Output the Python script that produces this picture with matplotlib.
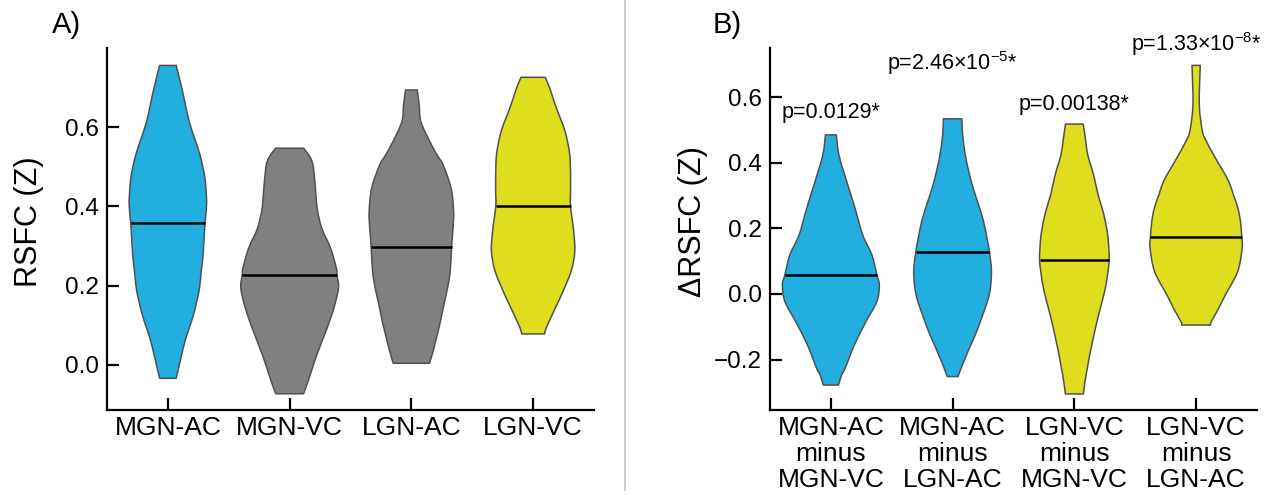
import numpy as np
import matplotlib
matplotlib.use("Agg")
import matplotlib.pyplot as plt
from matplotlib.lines import Line2D
from matplotlib.path import Path
from matplotlib.patches import PathPatch

plt.rcParams['font.family'] = ['Liberation Sans', 'DejaVu Sans']
plt.rcParams['mathtext.fontset'] = 'custom'
plt.rcParams['mathtext.rm'] = 'Liberation Sans'
plt.rcParams['mathtext.it'] = 'Liberation Sans:italic'
plt.rcParams['mathtext.bf'] = 'Liberation Sans:bold'

# ---------------- data ----------------
categories_a = ['MGN-AC', 'MGN-VC', 'LGN-AC', 'LGN-VC']
categories_b = ['MGN-AC\nminus\nMGN-VC', 'MGN-AC\nminus\nLGN-AC',
                'LGN-VC\nminus\nMGN-VC', 'LGN-VC\nminus\nLGN-AC']

# violin density profiles: value levels (Z) and half-width (category units)
mgn_ac_y = [-0.034, 0.017, 0.059, 0.093, 0.126, 0.160, 0.194, 0.236, 0.278, 0.358,
            0.404, 0.446, 0.480, 0.530, 0.572, 0.614, 0.657, 0.699, 0.756]
mgn_ac_w = [0.068, 0.107, 0.140, 0.175, 0.210, 0.237, 0.260, 0.274, 0.289, 0.305,
            0.318, 0.312, 0.300, 0.264, 0.219, 0.175, 0.144, 0.114, 0.068]

mgn_vc_y = [-0.073, -0.042, 0.025, 0.093, 0.143, 0.194, 0.227, 0.244, 0.295, 0.345,
            0.396, 0.463, 0.514, 0.547]
mgn_vc_w = [0.114, 0.151, 0.223, 0.308, 0.363, 0.401, 0.389, 0.384, 0.336, 0.264,
            0.226, 0.207, 0.184, 0.116]

lgn_ac_y = [0.004, 0.034, 0.067, 0.109, 0.152, 0.194, 0.236, 0.297, 0.345, 0.387,
            0.446, 0.505, 0.530, 0.564, 0.614, 0.657, 0.694]
lgn_ac_w = [0.149, 0.178, 0.205, 0.238, 0.267, 0.297, 0.319, 0.330, 0.342, 0.347,
            0.326, 0.260, 0.211, 0.151, 0.078, 0.064, 0.048]

lgn_vc_y = [0.078, 0.093, 0.118, 0.152, 0.177, 0.236, 0.286, 0.337, 0.401, 0.446,
            0.513, 0.547, 0.589, 0.623, 0.657, 0.699, 0.726]
lgn_vc_w = [0.093, 0.107, 0.144, 0.195, 0.233, 0.312, 0.342, 0.333, 0.307, 0.308,
            0.305, 0.293, 0.263, 0.223, 0.181, 0.136, 0.099]

mm_y = [-0.278, -0.247, -0.227, -0.156, -0.085, -0.023, 0.027, 0.058, 0.119, 0.180,
        0.262, 0.343, 0.424, 0.485]
mm_w = [0.062, 0.089, 0.117, 0.192, 0.288, 0.378, 0.398, 0.378, 0.337, 0.261,
        0.198, 0.130, 0.066, 0.045]

ml_y = [-0.252, -0.227, -0.166, -0.135, -0.085, -0.003, 0.068, 0.129, 0.170, 0.221,
        0.272, 0.323, 0.373, 0.424, 0.485, 0.534]
ml_w = [0.045, 0.069, 0.137, 0.174, 0.227, 0.300, 0.319, 0.302, 0.282, 0.254,
        0.213, 0.168, 0.133, 0.104, 0.082, 0.076]

lm_y = [-0.305, -0.268, -0.227, -0.186, -0.135, -0.085, -0.034, 0.017, 0.058, 0.104,
        0.160, 0.200, 0.251, 0.302, 0.363, 0.424, 0.470, 0.518]
lm_w = [0.074, 0.087, 0.106, 0.126, 0.155, 0.185, 0.220, 0.254, 0.272, 0.286,
        0.279, 0.265, 0.236, 0.195, 0.158, 0.110, 0.092, 0.073]

ll_y = [-0.095, -0.085, -0.044, -0.003, 0.068, 0.139, 0.173, 0.221, 0.262, 0.302,
        0.343, 0.384, 0.424, 0.465, 0.496, 0.577, 0.697]
ll_w = [0.117, 0.124, 0.185, 0.240, 0.341, 0.378, 0.375, 0.364, 0.343, 0.306,
        0.268, 0.206, 0.144, 0.085, 0.052, 0.026, 0.034]

medians_a = [0.358, 0.227, 0.297, 0.401]
medians_b = [0.058, 0.129, 0.104, 0.173]

p_labels = ['p=0.0129*', r'p=2.46×10$^{\mathregular{-5}}$*',
            'p=0.00138*', r'p=1.33×10$^{\mathregular{-8}}$*']
p_label_y = [0.536, 0.684, 0.562, 0.740]

BLUE = '#22AEDE'
GRAY = '#808080'
YELLOW = '#DEDE1E'
colors_a = [BLUE, GRAY, GRAY, YELLOW]
colors_b = [BLUE, BLUE, YELLOW, YELLOW]

profiles_a = [(mgn_ac_y, mgn_ac_w), (mgn_vc_y, mgn_vc_w),
              (lgn_ac_y, lgn_ac_w), (lgn_vc_y, lgn_vc_w)]
profiles_b = [(mm_y, mm_w), (ml_y, ml_w), (lm_y, lm_w), (ll_y, ll_w)]

# ---------------- figure ----------------
W, H = 1266, 495
fig = plt.figure(figsize=(W / 100, H / 100), dpi=100)

def px_axes(l, r, t, b):
    return fig.add_axes([l / W, 1 - b / H, (r - l) / W, (b - t) / H])

axA = px_axes(107, 594, 48, 410)
axB = px_axes(770, 1257, 48, 410)


def smooth_side(pts):
    """Cubic Bezier segments (Catmull-Rom tangents) passing through pts."""
    pts = np.asarray(pts, float)
    n = len(pts)
    verts, codes = [], []
    for k in range(n - 1):
        p0 = pts[max(k - 1, 0)]
        p1 = pts[k]
        p2 = pts[k + 1]
        p3 = pts[min(k + 2, n - 1)]
        c1 = p1 + (p2 - p0) / 6.0
        c2 = p2 - (p3 - p1) / 6.0
        verts += [tuple(c1), tuple(c2), tuple(p2)]
        codes += [Path.CURVE4] * 3
    return verts, codes


def violin_path(i, yv, wv):
    left = np.column_stack([i - wv, yv])
    right = np.column_stack([i + wv, yv])[::-1]
    verts = [tuple(left[0])]
    codes = [Path.MOVETO]
    v, c = smooth_side(left)
    verts += v; codes += c
    verts.append(tuple(right[0])); codes.append(Path.LINETO)
    v, c = smooth_side(right)
    verts += v; codes += c
    verts.append(tuple(left[0])); codes.append(Path.CLOSEPOLY)
    return Path(verts, codes)


def draw_violins(ax, profiles, colors, medians):
    for i, ((yv, wv), c, med) in enumerate(zip(profiles, colors, medians)):
        yv = np.asarray(yv, float)
        wv = np.asarray(wv, float)
        patch = PathPatch(violin_path(i, yv, wv), facecolor=c,
                          edgecolor='#505050', linewidth=1.1,
                          joinstyle='round', zorder=2)
        ax.add_patch(patch)
        hw = np.interp(med, yv, wv)
        ax.plot([i - hw, i + hw], [med, med], color='black', lw=1.8,
                solid_capstyle='butt', zorder=3)


def style(ax, cats):
    ax.set_xlim(-0.5, 3.5)
    ax.set_xticks(range(len(cats)))
    ax.set_xticklabels(cats, fontsize=19, linespacing=1.12)
    for s in ('top', 'right'):
        ax.spines[s].set_visible(False)
    for s in ('left', 'bottom'):
        ax.spines[s].set_linewidth(1.6)
    ax.tick_params(axis='both', direction='in', length=8.5, width=1.6)
    ax.tick_params(axis='y', labelsize=17.5, pad=6)
    ax.tick_params(axis='x', pad=4)


draw_violins(axA, profiles_a, colors_a, medians_a)
style(axA, categories_a)
axA.set_ylim(-0.114, 0.80)
axA.set_yticks([0.0, 0.2, 0.4, 0.6])
axA.set_yticklabels(['0.0', '0.2', '0.4', '0.6'])

draw_violins(axB, profiles_b, colors_b, medians_b)
style(axB, categories_b)
axB.set_ylim(-0.354, 0.75)
axB.set_yticks([-0.2, 0.0, 0.2, 0.4, 0.6])
axB.set_yticklabels(['\u22120.2', '0.0', '0.2', '0.4', '0.6'])

for i, (lab, yy) in enumerate(zip(p_labels, p_label_y)):
    axB.text(i, yy, lab, ha='center', va='baseline', fontsize=15.5,
             clip_on=False)

# y labels and panel letters
fig.text(28.5 / W, 1 - 222 / H, 'RSFC (Z)', rotation=90, ha='center',
         va='center', fontsize=22)
fig.text(693 / W, 1 - 222 / H, '\u0394RSFC (Z)', rotation=90, ha='center',
         va='center', fontsize=22)
fig.text(52 / W, 1 - 33 / H, 'A)', fontsize=21, va='baseline', ha='left')
fig.text(713 / W, 1 - 33 / H, 'B)', fontsize=21, va='baseline', ha='left')

# panel separator
fig.add_artist(Line2D([625 / W, 625 / W], [1 - 490 / H, 1.0],
                      transform=fig.transFigure, color='#c8c8c8', lw=1.3))

fig.savefig('out.png', dpi=100)
